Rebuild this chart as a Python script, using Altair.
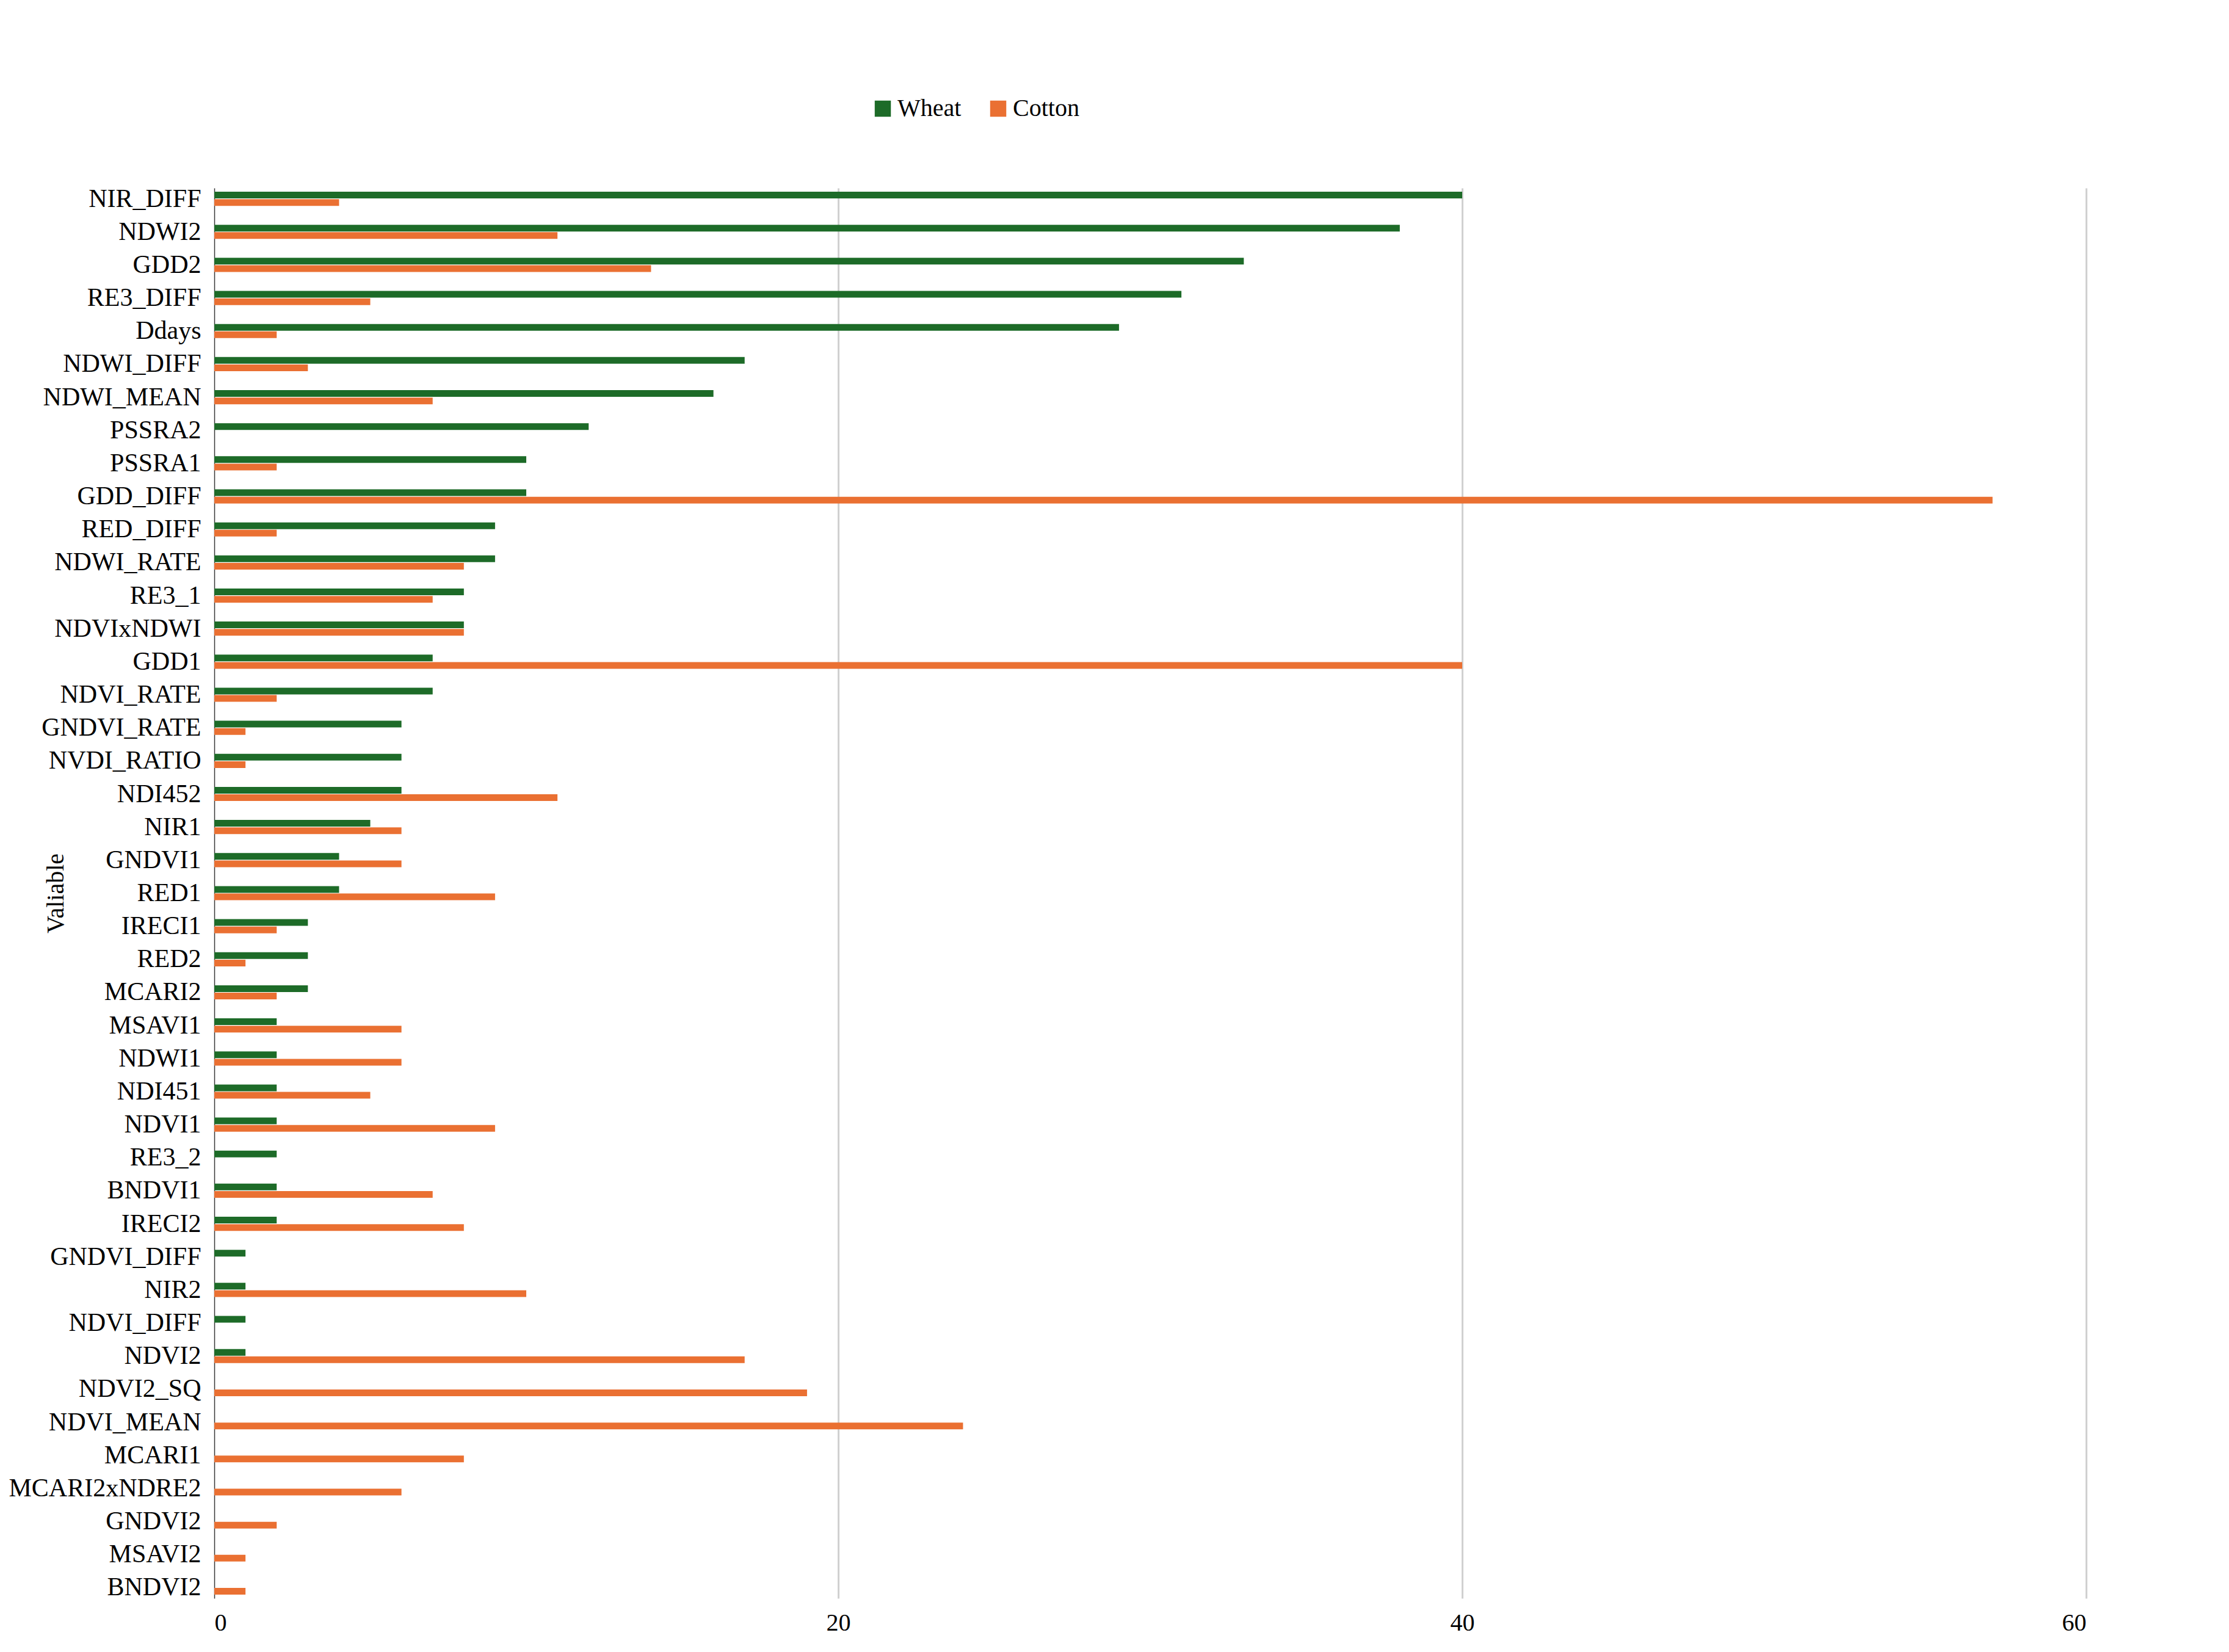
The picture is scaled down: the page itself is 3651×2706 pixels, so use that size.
import altair as alt
import pandas as pd

variables = ["NIR_DIFF","NDWI2","GDD2","RE3_DIFF","Ddays","NDWI_DIFF","NDWI_MEAN","PSSRA2","PSSRA1","GDD_DIFF",
 "RED_DIFF","NDWI_RATE","RE3_1","NDVIxNDWI","GDD1","NDVI_RATE","GNDVI_RATE","NVDI_RATIO","NDI452","NIR1",
 "GNDVI1","RED1","IRECI1","RED2","MCARI2","MSAVI1","NDWI1","NDI451","NDVI1","RE3_2","BNDVI1","IRECI2",
 "GNDVI_DIFF","NIR2","NDVI_DIFF","NDVI2","NDVI2_SQ","NDVI_MEAN","MCARI1","MCARI2xNDRE2","GNDVI2","MSAVI2","BNDVI2"]
wheat = [40,38,33,31,29,17,16,12,10,10,9,9,8,8,7,7,6,6,6,5,4,4,3,3,3,2,2,2,2,2,2,2,1,1,1,1,0,0,0,0,0,0,0]
cotton = [4,11,14,5,2,3,7,0,2,57,2,8,7,8,40,2,1,1,11,6,6,9,2,1,2,6,6,5,9,0,7,8,0,10,0,17,19,24,8,6,2,1,1]

rows = []
for v, w, c in zip(variables, wheat, cotton):
    rows.append({"Variable": v, "Crop": "Wheat", "Occurence": w})
    rows.append({"Variable": v, "Crop": "Cotton", "Occurence": c})
df = pd.DataFrame(rows)

F = "Liberation Serif"
chart = alt.Chart(df).mark_bar(height=11).encode(
    y=alt.Y("Variable:N", sort=variables, title="Valiable",
            scale=alt.Scale(paddingInner=0.55, paddingOuter=0.1),
            axis=alt.Axis(labelFontSize=42, labelColor="#000", titleFontSize=40, titleColor="#000",
                          titleFontWeight="normal", ticks=False, domainColor="#333", labelPadding=22,
                          titlePadding=40, labelLimit=0)),
    yOffset=alt.YOffset("Crop:N", sort=["Wheat", "Cotton"]),
    x=alt.X("Occurence:Q", title="Occurence", scale=alt.Scale(domain=[0, 60]),
            axis=alt.Axis(values=[0, 20, 40, 60], labelFontSize=40, labelColor="#000", titleFontSize=40,
                          titleColor="#000", titleFontWeight="normal", ticks=False, domain=False,
                          gridColor="#d0d0d0", gridWidth=3, labelPadding=20, titlePadding=70)),
    color=alt.Color("Crop:N", sort=["Wheat", "Cotton"],
                    scale=alt.Scale(domain=["Wheat", "Cotton"], range=["#1d6b28", "#ea7032"]),
                    legend=alt.Legend(orient="none", legendX=1075, legendY=-150, direction="horizontal",
                                      title=None, labelFontSize=40,
                                      labelColor="#000", symbolType="square", symbolSize=700,
                                      columnPadding=40)),
).properties(width=3066, height=2310, padding={"top": 150, "left": 5, "right": 5, "bottom": 5}
).configure(font=F).configure_view(stroke=None)

chart.save("out.html", embed_options={"renderer": "svg", "actions": False})
